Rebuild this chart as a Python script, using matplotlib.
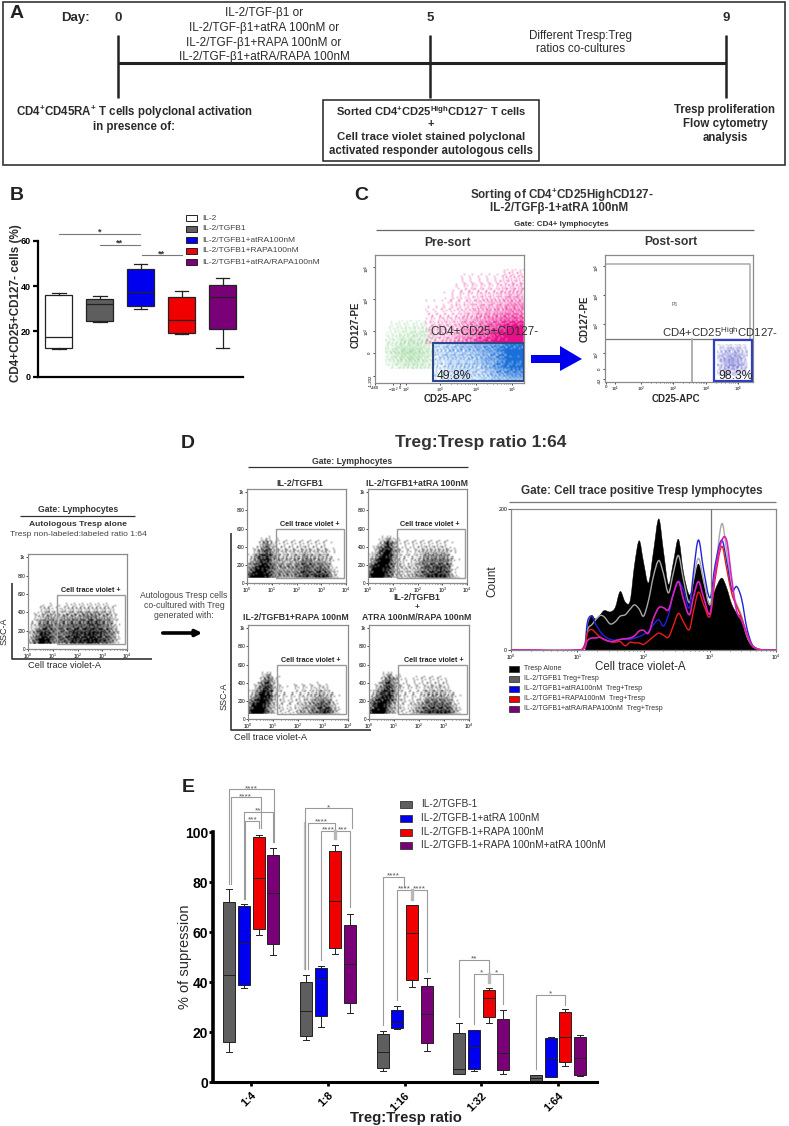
import matplotlib

matplotlib.use("Agg")
import matplotlib.pyplot as plt
import numpy as np
from matplotlib.colors import to_rgb
from matplotlib.patches import PathPatch, Polygon, Rectangle
from matplotlib.path import Path

plt.rcParams.update(
    {
        "font.family": ["Liberation Sans", "DejaVu Sans"],
        "mathtext.default": "regular",
        "axes.linewidth": 0.8,
    }
)

W, H = 789, 1126
GRAY, BLUE, RED, PURPLE = "#5e5e5e", "#0000ee", "#f00000", "#7a0078"
FRAME = "#8a8a8a"
TXT = "#2a2a2a"

# panel B, % of CD4+CD25+CD127- cells
B_LOW = [12.0, 24.1, 30.0, 18.7, 12.5]
B_Q1 = [12.8, 24.6, 31.2, 19.4, 20.9]
B_MED = [17.4, 32.0, 37.2, 25.1, 35.4]
B_Q3 = [36.2, 34.1, 47.4, 35.4, 40.4]
B_HIGH = [36.8, 35.6, 49.7, 37.8, 43.7]
B_COLORS = ["white", GRAY, BLUE, RED, PURPLE]
B_NAMES = [
    "IL-2",
    "IL-2/TGFB1",
    "IL-2/TGFB1+atRA100nM",
    "IL-2/TGFB1+RAPA100nM",
    "IL-2/TGFB1+atRA/RAPA100nM",
]
# (left box, right box, height, stars)
B_SIGNIF = [(1, 2.98, 63.2, "*"), (2, 2.98, 58.4, "**"), (3.03, 4, 53.8, "**")]

# panel E, one row per ratio, one column per condition
E_RATIOS = ["1:4", "1:8", "1:16", "1:32", "1:64"]
E_NAMES = [
    "IL-2/TGFB-1",
    "IL-2/TGFB-1+atRA 100nM",
    "IL-2/TGFB-1+RAPA 100nM",
    "IL-2/TGFB-1+RAPA 100nM+atRA 100nM",
]
E_COLORS = [GRAY, BLUE, RED, PURPLE]
E_OFFSETS = [-0.288, -0.096, 0.096, 0.288]
E_LOW = [
    [11.9, 37.8, 59.0, 51.0],
    [16.7, 22.2, 51.1, 27.6],
    [4.5, 21.2, 38.0, 12.4],
    [3.1, 4.4, 23.6, 3.1],
    [0.4, 1.9, 6.5, 2.5],
]
E_Q1 = [
    [16.0, 38.7, 61.3, 55.1],
    [18.4, 26.4, 53.5, 31.8],
    [5.5, 21.8, 40.7, 15.6],
    [3.3, 5.2, 26.0, 4.7],
    [0.4, 2.1, 8.0, 2.8],
]
E_MED = [
    [43.0, 55.5, 81.8, 75.8],
    [28.3, 41.1, 72.4, 47.1],
    [12.1, 23.6, 59.7, 27.4],
    [5.3, 14.2, 33.6, 11.7],
    [1.6, 9.7, 18.0, 9.7],
]
E_Q3 = [
    [72.2, 70.6, 97.9, 91.0],
    [40.2, 45.5, 92.3, 62.9],
    [19.4, 28.8, 70.8, 38.6],
    [19.5, 20.8, 36.7, 25.4],
    [2.7, 17.8, 28.0, 18.0],
]
E_HIGH = [
    [77.2, 71.3, 98.9, 93.5],
    [43.0, 46.6, 95.0, 67.3],
    [20.6, 30.6, 71.0, 41.8],
    [23.8, 21.0, 37.6, 29.0],
    [2.8, 18.0, 29.4, 19.0],
]
# (ratio, left x, right x, top, left foot, right foot, stars)
E_BRACKETS = [
    (0, -0.297, 0.30, 117.2, 79.4, 96.0, "****"),
    (0, -0.27, 0.126, 113.9, 79.4, 101.5, "****"),
    (0, -0.10, 0.28, 108.1, 73.4, 96.0, "**"),
    (0, -0.08, 0.105, 104.5, 73.4, 101.5, "***"),
    (1, -0.297, 0.31, 109.5, 45.4, 101.5, "*"),
    (1, -0.265, 0.096, 103.7, 45.4, 97.5, "****"),
    (1, -0.096, 0.096, 100.5, 48.7, 97.5, "****"),
    (1, 0.096, 0.288, 100.5, 97.5, 70.0, "***"),
    (2, -0.288, -0.008, 82.1, 22.7, 78.0, "****"),
    (2, -0.096, 0.09, 77.0, 32.7, 73.4, "****"),
    (2, 0.10, 0.295, 77.0, 73.4, 44.0, "****"),
    (3, -0.288, 0.096, 49.0, 26.0, 40.0, "**"),
    (3, -0.096, 0.096, 43.4, 23.4, 40.0, "*"),
    (3, 0.10, 0.288, 43.4, 40.0, 31.4, "*"),
    (4, -0.288, 0.096, 35.0, 5.3, 30.7, "*"),
]

# histogram of panel D: cell trace (decades) and counts per condition
H_X = [
    0.0, 1.045, 1.12, 1.146, 1.171, 1.221, 1.271, 1.347, 1.407, 1.497, 1.573,
    1.648, 1.724, 1.799, 1.864, 1.935, 2.0, 2.075, 2.151, 2.231, 2.302, 2.377,
    2.452, 2.528, 2.603, 2.693, 2.754, 2.829, 2.905, 3.005, 3.08, 3.181, 3.256,
    3.332, 3.407, 3.482, 3.558, 3.633, 3.709, 3.809, 4.0,
]
H_ALONE = [
    0, 0, 0, 25, 40, 49, 44, 50, 56, 54, 60, 83, 68, 70, 120, 155, 125, 95, 140,
    186, 140, 93, 125, 157, 110, 78, 95, 122, 95, 64, 85, 102, 88, 65, 52, 45,
    20, 6, 1, 0, 0,
]
H_TGFB = [
    0, 0, 6, 25, 32, 36, 42, 49, 47, 37, 40, 48, 50, 58, 64, 58, 48, 70, 105,
    127, 108, 81, 110, 134, 100, 67, 100, 130, 100, 64, 110, 179, 140, 85, 65,
    48, 20, 7, 2, 0, 0,
]
H_ATRA = [
    0, 0, 10, 35, 45, 48, 38, 26, 20, 15, 14, 15, 15, 15, 17, 19, 22, 26, 36,
    43, 34, 50, 80, 97, 85, 60, 110, 156, 115, 74, 120, 156, 125, 85, 90, 72,
    32, 9, 2, 0, 0,
]
H_RAPA = [
    0, 0, 8, 22, 27, 29, 25, 18, 15, 12, 11, 12, 6, 11, 10, 10, 8, 13, 19, 24,
    21, 18, 35, 52, 40, 29, 55, 82, 65, 48, 100, 147, 115, 80, 62, 45, 24, 7, 2,
    0, 0,
]
H_BOTH = [
    0, 0, 4, 12, 15, 17, 17, 18, 15, 12, 13, 15, 16, 17, 20, 27, 28, 24, 45, 60,
    60, 57, 80, 97, 72, 50, 75, 97, 75, 52, 110, 155, 155, 100, 55, 42, 22, 7,
    2, 0, 0,
]
H_NAMES = [
    "Tresp Alone",
    "IL-2/TGFB1 Treg+Tresp",
    "IL-2/TGFB1+atRA100nM  Treg+Tresp",
    "IL-2/TGFB1+RAPA100nM  Treg+Tresp",
    "IL-2/TGFB1+atRA/RAPA100nM  Treg+Tresp",
]

# dot clouds read as coarse darkness grids (0-9), top row first, x in quarter decades
D_ALONE = [
    [0, 0, 0, 0, 0, 0, 0, 0, 0, 0, 0, 0, 0, 0, 0, 0],
    [0, 0, 1, 2, 1, 1, 2, 2, 2, 2, 2, 2, 2, 1, 0, 0],
    [0, 1, 3, 4, 3, 3, 4, 4, 4, 5, 5, 4, 4, 2, 0, 0],
    [0, 2, 5, 6, 4, 5, 5, 6, 6, 6, 7, 6, 5, 3, 0, 0],
    [1, 4, 8, 7, 5, 5, 6, 8, 7, 8, 8, 7, 6, 4, 0, 0],
    [3, 6, 9, 8, 5, 5, 6, 8, 7, 8, 8, 7, 6, 4, 0, 0],
]
D_TGFB = [
    [0, 0, 0, 0, 0, 0, 0, 0, 0, 0, 0, 0, 0, 0, 0, 0],
    [0, 0, 1, 5, 2, 1, 1, 1, 1, 1, 1, 1, 1, 0, 0, 0],
    [0, 1, 4, 7, 3, 2, 2, 2, 2, 3, 2, 2, 2, 1, 0, 0],
    [1, 3, 7, 8, 4, 3, 3, 3, 4, 5, 4, 4, 3, 1, 0, 0],
    [3, 7, 9, 8, 5, 4, 4, 4, 5, 7, 5, 6, 5, 2, 0, 0],
    [6, 9, 9, 8, 5, 4, 4, 4, 6, 7, 6, 8, 8, 3, 0, 0],
]
D_ATRA = [
    [0, 0, 0, 1, 0, 0, 0, 0, 0, 0, 0, 0, 0, 0, 0, 0],
    [0, 0, 3, 8, 3, 1, 1, 1, 1, 1, 1, 1, 1, 0, 0, 0],
    [0, 2, 7, 9, 4, 1, 1, 1, 2, 3, 3, 3, 3, 1, 0, 0],
    [1, 6, 9, 9, 3, 2, 1, 2, 4, 5, 5, 5, 5, 1, 0, 0],
    [4, 9, 9, 7, 3, 2, 2, 2, 4, 6, 6, 7, 6, 1, 0, 0],
    [8, 9, 9, 6, 3, 2, 2, 3, 5, 7, 8, 8, 7, 2, 0, 0],
]
D_RAPA = [
    [0, 0, 0, 1, 0, 0, 0, 0, 0, 0, 0, 0, 0, 0, 0, 0],
    [0, 0, 2, 6, 2, 0, 0, 0, 0, 0, 0, 0, 0, 0, 0, 0],
    [0, 1, 6, 8, 2, 1, 0, 1, 1, 1, 1, 2, 1, 0, 0, 0],
    [1, 5, 9, 8, 2, 1, 1, 1, 1, 2, 3, 4, 3, 1, 0, 0],
    [4, 9, 9, 6, 2, 1, 1, 1, 2, 3, 4, 6, 6, 2, 0, 0],
    [8, 9, 9, 5, 1, 1, 1, 1, 3, 4, 5, 7, 8, 3, 0, 0],
]
D_BOTH = [
    [0, 0, 0, 1, 0, 0, 0, 0, 0, 0, 0, 0, 0, 0, 0, 0],
    [0, 0, 2, 6, 3, 1, 0, 1, 1, 1, 1, 1, 0, 0, 0, 0],
    [0, 1, 5, 8, 3, 1, 1, 1, 1, 2, 2, 2, 1, 0, 0, 0],
    [1, 5, 8, 8, 3, 1, 1, 1, 2, 4, 4, 4, 3, 1, 0, 0],
    [4, 8, 9, 6, 2, 1, 1, 2, 4, 6, 6, 6, 5, 2, 0, 0],
    [8, 9, 9, 4, 2, 1, 1, 3, 6, 7, 7, 8, 8, 3, 0, 0],
]
C_GREEN = [
    [0, 1, 1, 1, 0],
    [1, 2, 3, 3, 1],
    [2, 4, 5, 4, 2],
    [1, 2, 3, 3, 1],
]
C_PINK = [
    [0, 0, 0, 0, 0, 0, 1, 1],
    [0, 0, 0, 1, 1, 1, 2, 2],
    [0, 0, 1, 1, 2, 2, 3, 3],
    [1, 1, 1, 2, 3, 4, 5, 5],
    [1, 2, 2, 4, 5, 7, 9, 9],
    [1, 2, 3, 5, 7, 9, 9, 9],
]
C_BLUE = [
    [2, 3, 4, 5, 6, 8, 8],
    [2, 3, 3, 4, 6, 9, 9],
    [1, 2, 3, 3, 5, 8, 8],
    [1, 1, 2, 2, 3, 4, 4],
]
C_SORTED = [
    [1, 2, 2, 1],
    [2, 4, 5, 2],
    [2, 5, 5, 2],
    [1, 2, 2, 1],
]

# fixed halftone tile, turns the darkness grids into a dot texture
TILE = np.array(
    [
        [37, 5, 58, 21, 44, 12, 61, 28],
        [16, 49, 30, 9, 54, 33, 2, 47],
        [62, 25, 41, 56, 18, 39, 23, 52],
        [7, 35, 13, 3, 46, 60, 10, 31],
        [50, 20, 59, 27, 34, 6, 43, 17],
        [29, 1, 38, 48, 15, 55, 24, 63],
        [42, 57, 11, 22, 4, 36, 51, 14],
        [19, 32, 45, 0, 53, 26, 40, 8],
    ]
)
# row shifts of the tile, so that the pattern does not repeat visibly
TILE_SHIFT = [0, 3, 6, 1, 7, 2, 5, 4, 1, 6, 3, 0, 5]


def box(x0, y0, x1, y1):
    return [x0 / W, 1 - y1 / H, (x1 - x0) / W, (y1 - y0) / H]


def cloud(ax, grid, extent, color, top=1.0):
    # limits must be set before the call, the image is made at pixel size
    xl, yl = ax.get_xlim(), ax.get_ylim()
    nx = max(2, int(ax.bbox.width * (extent[1] - extent[0]) / abs(xl[1] - xl[0])))
    ny = max(2, int(ax.bbox.height * (extent[3] - extent[2]) / abs(yl[1] - yl[0])))
    g = np.array(grid, dtype=float) / 9
    rows = np.linspace(0, g.shape[0] - 1, ny)
    cols = np.linspace(0, g.shape[1] - 1, nx)
    by_col = np.array([np.interp(rows, np.arange(g.shape[0]), g[:, j]) for j in range(g.shape[1])]).T
    dens = np.array([np.interp(cols, np.arange(g.shape[1]), r) for r in by_col])
    tile = np.zeros((ny, nx))
    for i in range(ny):
        row = np.roll(TILE[i % 8], TILE_SHIFT[(i // 2) % len(TILE_SHIFT)])
        tile[i] = np.tile(row, nx // 8 + 1)[:nx]
    dots = (dens > (tile + 0.5) / 64).astype(float)
    kern = np.array([1, 2, 1]) / 4
    dots = np.apply_along_axis(lambda v: np.convolve(v, kern, "same"), 0, dots)
    dots = np.apply_along_axis(lambda v: np.convolve(v, kern, "same"), 1, dots)
    rgba = np.zeros((ny, nx, 4))
    rgba[..., :3] = to_rgb(color)
    rgba[..., 3] = dots * top
    ax.imshow(rgba, extent=extent, aspect="auto", interpolation="nearest", zorder=1)
    ax.set_xlim(xl)
    ax.set_ylim(yl)


def frame(ax):
    for s in ax.spines.values():
        s.set_color(FRAME)
        s.set_linewidth(0.9)


def log_ticks(ax, lo, hi, extra=(), size=3.6):
    minor = [d + np.log10(k) for d in range(lo, hi) for k in range(2, 10)]
    ax.set_xticks(minor, minor=True)
    major = list(range(lo, hi + 1))
    labels = [f"$10^{d}$" for d in major]
    for pos, lab in extra:
        major.append(pos)
        labels.append(lab)
    ax.set_xticks(major, labels)
    ax.tick_params(axis="x", which="major", length=1.5, width=0.5, labelsize=size, pad=0.4)
    ax.tick_params(axis="x", which="minor", length=1, width=0.4)


def stat_rows(low, q1, med, q3, high):
    return [
        {"whislo": a, "q1": b, "med": c, "q3": d, "whishi": e, "fliers": []}
        for a, b, c, d, e in zip(low, q1, med, q3, high)
    ]


def draw_boxes(ax, rows, positions, colors, width, lw):
    parts = ax.bxp(
        rows,
        positions=positions,
        widths=width,
        capwidths=width * 0.5,
        patch_artist=True,
        showfliers=False,
        manage_ticks=False,
        boxprops={"linewidth": lw, "edgecolor": "#222222"},
        medianprops={"linewidth": lw, "color": "#222222"},
        whiskerprops={"linewidth": lw, "color": "#222222"},
        capprops={"linewidth": lw, "color": "#222222"},
    )
    for patch, c in zip(parts["boxes"], colors):
        patch.set_facecolor(c)


def smooth(xs, ys):
    # Bezier through the read points, the path stays on every one of them
    pts = np.column_stack([xs, ys])
    verts, codes = [pts[0]], [Path.MOVETO]
    for i in range(len(pts) - 1):
        a = pts[max(i - 1, 0)]
        b, c = pts[i], pts[i + 1]
        d = pts[min(i + 2, len(pts) - 1)]
        h = c[0] - b[0]
        s0 = (c[1] - a[1]) / max(c[0] - a[0], 1e-6)
        s1 = (d[1] - b[1]) / max(d[0] - b[0], 1e-6)
        verts += [(b[0] + h / 3, b[1] + s0 * h / 3), (c[0] - h / 3, c[1] - s1 * h / 3), c]
        codes += [Path.CURVE4] * 3
    return verts, codes


def panel_b(fig):
    ax = fig.add_axes(box(38, 241, 243, 376.5))
    draw_boxes(
        ax,
        stat_rows(B_LOW, B_Q1, B_MED, B_Q3, B_HIGH),
        range(1, 6),
        B_COLORS,
        0.66,
        0.9,
    )
    ax.set_xlim(0.49, 5.5)
    ax.set_ylim(0, 60)
    ax.set_xticks([])
    ax.set_yticks([0, 20, 40, 60], ["0", "20", "40", "60"], fontsize=6.5, fontweight="bold")
    ax.tick_params(axis="y", length=3.5, width=1.6, pad=1.5)
    for s in ("top", "right"):
        ax.spines[s].set_visible(False)
    for s in ("left", "bottom"):
        ax.spines[s].set_linewidth(1.6)
    for x0, x1, y, stars in B_SIGNIF:
        ax.plot([x0, x1], [y, y], color="#777777", lw=0.8, clip_on=False)
        ax.text((x0 + x1) / 2, y + 0.6, stars, ha="center", va="center", fontsize=6.5,
                fontweight="bold", color="#333333", clip_on=False)


def panel_e(fig):
    ax = fig.add_axes(box(213, 832, 597, 1082))
    for i in range(len(E_RATIOS)):
        draw_boxes(
            ax,
            stat_rows(E_LOW[i], E_Q1[i], E_MED[i], E_Q3[i], E_HIGH[i]),
            [i + o for o in E_OFFSETS],
            E_COLORS,
            0.157,
            0.7,
        )
    for i, x0, x1, top, foot0, foot1, stars in E_BRACKETS:
        ax.plot(
            [i + x0, i + x0, i + x1, i + x1],
            [foot0, top, top, foot1],
            color="#9a9a9a",
            lw=0.8,
            clip_on=False,
        )
        ax.text(i + (x0 + x1) / 2, top + 0.2, stars, ha="center", va="center",
                fontsize=6, color="#555555", clip_on=False)
    # thick gate stubs where several brackets land on the same box
    ax.plot([0.704, 0.704], [45.4, 103.7], color="#c4c4c4", lw=1.6, clip_on=False, zorder=1)
    for i, y0, y1 in [(1, 97.5, 100.5), (2, 73.4, 77.0), (3, 40.0, 43.4)]:
        ax.plot([i + 0.096, i + 0.096], [y0, y1], color="#b8b8b8", lw=2.4, clip_on=False)
    ax.set_xlim(-0.5, 4.51)
    ax.set_ylim(0, 100)
    ax.set_xticks(range(5))
    ax.set_xticklabels(E_RATIOS, rotation=45, ha="right", rotation_mode="anchor",
                       fontsize=8, fontweight="bold")
    ax.set_yticks(range(0, 101, 20))
    ax.set_yticklabels(range(0, 101, 20), fontsize=10, fontweight="bold")
    ax.tick_params(axis="y", length=3, width=2, pad=0.5)
    ax.tick_params(axis="x", length=3, width=2, pad=3)
    for s in ("top", "right"):
        ax.spines[s].set_visible(False)
    ax.spines["left"].set_linewidth(2.6)
    ax.spines["bottom"].set_linewidth(2.2)


def panel_c(fig):
    pre = fig.add_axes(box(375, 255, 524, 383))
    pre.set_xlim(1.2, 5.34)
    pre.set_ylim(1.37, 5.39)
    cloud(pre, C_GREEN, (1.47, 2.86, 1.82, 3.35), "#6fc46f", 0.8)
    cloud(pre, C_PINK, (2.6, 5.34, 2.6, 4.93), "#e8108a")
    cloud(pre, C_BLUE, (2.81, 5.33, 1.43, 2.62), "#1a6fd8")
    pre.add_patch(Rectangle((2.81, 1.43), 2.52, 1.19, fill=False, ec="#2f4a8a", lw=1.5, zorder=3))
    log_ticks(pre, 3, 5, [(1.2, "-460"), (1.7, "$-10^2$"), (1.89, "0"), (2.07, "$10^2$")], 3.0)
    pre.set_yticks([1.6, 2.3, 3, 4, 5], ["-1,202", "0", "$10^3$", "$10^4$", "$10^5$"])
    pre.tick_params(axis="y", length=1.5, width=0.5, labelsize=3.2, pad=0.5, labelrotation=90)
    frame(pre)

    post = fig.add_axes(box(605, 255, 753, 382))
    post.set_xlim(0.9, 5.45)
    post.set_ylim(1.01, 5.39)
    cloud(post, C_SORTED, (4.35, 5.3, 1.2, 2.3), "#5555c8", 0.9)
    post.add_patch(Rectangle((4.24, 1.03), 1.18, 1.42, fill=False, ec="#2f3fc0", lw=1.6, zorder=3))
    post.plot([0.9, 5.35, 5.35], [5.07, 5.07, 2.49], color="#aaaaaa", lw=1.1)
    post.plot([0.9, 5.45], [2.49, 2.49], color="#777777", lw=0.9)
    post.plot([3.59, 3.59], [1.01, 2.49], color="#aaaaaa", lw=1.3)
    log_ticks(post, 2, 5, [(0.92, "0"), (1.2, "$10^1$")], 3.2)
    post.set_yticks([1.1, 1.45, 2, 3, 4, 5], ["-42", "0", "$10^2$", "$10^3$", "$10^4$", "$10^5$"])
    post.tick_params(axis="y", length=1.5, width=0.5, labelsize=3.2, pad=0.5, labelrotation=90)
    frame(post)


def flow_plot(fig, rect, grid, gate_x):
    ax = fig.add_axes(box(*rect))
    ax.set_xlim(0, 4)
    ax.set_ylim(0, 1035)
    cloud(ax, grid, (0, 4, 50, 520), "#000000")
    ax.add_patch(
        Rectangle((gate_x, 51), 3.93 - gate_x, 542, fill=False, ec="#9a9a9a", lw=1.0, zorder=3)
    )
    log_ticks(ax, 0, 4)
    ax.set_yticks([0, 200, 400, 600, 800, 1000], ["0", "200", "400", "600", "800", "1k"])
    ax.tick_params(axis="y", length=1.5, width=0.5, labelsize=3.4, pad=0.5)
    frame(ax)


def histogram(fig):
    ax = fig.add_axes(box(511, 509, 776, 650))
    verts, codes = smooth(H_X, H_ALONE)
    ax.add_patch(PathPatch(Path(verts, codes), fc="black", ec="black", lw=0.3, zorder=1))
    series = [(H_TGFB, "#a8a8a8", 1.0), (H_ATRA, "#2222dd", 1.0), (H_RAPA, "#ee1c1c", 1.0),
              (H_BOTH, "#d822c0", 1.2)]
    for z, (vals, color, lw) in enumerate(series):
        verts, codes = smooth(H_X, vals)
        ax.add_patch(PathPatch(Path(verts, codes), fc="none", ec=color, lw=lw, zorder=2 + z))
    ax.plot([3.02, 3.02], [67, 200], color="#777777", lw=0.9, zorder=6)
    ax.set_xlim(0, 4)
    ax.set_ylim(0, 200)
    log_ticks(ax, 0, 4)
    ax.set_yticks([0, 200], ["0", "200"])
    ax.tick_params(axis="y", length=2, width=0.5, labelsize=3.8, pad=0.8)
    frame(ax)


def overlay(fig):
    ax = fig.add_axes([0, 0, 1, 1], zorder=10)
    ax.set_xlim(0, W)
    ax.set_ylim(H, 0)
    ax.axis("off")

    def t(x, y, s, size=7.5, weight="normal", ha="center", color=TXT, rot=0):
        ax.text(x, y, s, fontsize=size, fontweight=weight, ha=ha, va="center",
                color=color, rotation=rot)

    def line(xs, ys, lw=1.0, color="#333333"):
        ax.plot(xs, ys, color=color, lw=lw, solid_capstyle="butt")

    # A
    ax.add_patch(Rectangle((3, 2), 782, 163, fill=False, ec="#333333", lw=1.2))
    t(17, 13, "A", 14, "bold", color="#222222")
    t(75, 18, "Day:", 9.5, "bold")
    for x, d in [(118, "0"), (430, "5"), (726, "9")]:
        t(x, 18, d, 9.5, "bold")
        line([x, x], [35, 98], 1.8, "#222222")
    line([118, 726], [63, 63], 2.2, "#222222")
    for y, s in [
        (13, "IL-2/TGF-β1 or"),
        (28, "IL-2/TGF-β1+atRA 100nM or"),
        (43, "IL-2/TGF-β1+RAPA 100nM or"),
        (57, "IL-2/TGF-β1+atRA/RAPA 100nM"),
    ]:
        t(264, y, s, 8.45)
    t(581, 36, "Different Tresp:Treg", 8.4)
    t(581, 49, "ratios co-cultures", 8.4)
    t(134, 112, "CD4$^{+}$CD45RA$^{+}$ T cells polyclonal activation", 8.3, "bold")
    t(134, 127, "in presence of:", 8.3, "bold")
    ax.add_patch(Rectangle((323, 100), 216, 61, fill=False, ec="#222222", lw=1.1))
    t(431, 111, "Sorted CD4$^{+}$CD25$^{High}$CD127$^{-}$ T cells", 8, "bold")
    t(431, 124, "+", 8, "bold")
    t(431, 137, "Cell trace violet stained polyclonal", 8.2, "bold")
    t(431, 151, "activated responder autologous cells", 8.3, "bold")
    for y, s in [(110, "Tresp proliferation"), (124, "Flow cytometry"), (138, "analysis")]:
        t(725, y, s, 8.3, "bold")

    # B
    t(17, 196, "B", 14, "bold", color="#222222")
    t(16, 303, "CD4+CD25+CD127- cells (%)", 8.4, "bold", rot=90)
    for y, c, s in zip([218, 229, 240, 251, 262], B_COLORS, B_NAMES):
        ax.add_patch(Rectangle((186, y - 3), 11, 6, fc=c, ec="#222222", lw=0.7))
        t(202, y, s, 6, ha="left", color="#444444")

    # C
    t(361, 196, "C", 14, "bold", color="#222222")
    t(562, 195, "Sorting of CD4$^{+}$CD25HighCD127-", 8.4, "bold", color="#333333")
    t(559, 208.5, "IL-2/TGFβ-1+atRA 100nM", 8.4, "bold", color="#333333")
    t(561, 224, "Gate: CD4+ lymphocytes", 5.8, "bold", color="#333333")
    line([376, 754], [230, 230], 0.9, "#666666")
    t(448, 243, "Pre-sort", 8.7, "bold", color="#333333")
    t(671, 242, "Post-sort", 8.7, "bold", color="#333333")
    t(356, 325, "CD127-PE", 7, "bold", rot=90)
    t(448, 399, "CD25-APC", 7, "bold")
    t(585, 319, "CD127-PE", 7, "bold", rot=90)
    t(676, 399, "CD25-APC", 7, "bold")
    t(484, 332, "CD4+CD25+CD127-", 8.5, color="#333333")
    t(437, 376, "49.8%", 8.7, ha="left", color="#222222")
    t(720, 332, "CD4+CD25$^{High}$CD127-", 8.2, color="#333333")
    t(718, 376, "98.3%", 8.7, ha="left", color="#222222")
    t(675, 304, "P6", 3.5, color="#555555")
    ax.add_patch(
        Polygon(
            [(531, 355), (560, 355), (560, 346), (582, 359), (560, 371), (560, 363), (531, 363)],
            fc="#0000ee",
            ec="none",
        )
    )

    # D
    t(188, 443, "D", 14, "bold", color="#222222")
    t(481, 442, "Treg:Tresp ratio 1:64", 12.5, "bold", color="#333333")
    t(352, 462, "Gate: Lymphocytes", 6.2, "bold", color="#333333")
    line([248, 468], [467, 467], 0.9)
    t(78, 509, "Gate: Lymphocytes", 6.2, "bold", color="#333333")
    line([20, 135], [516, 516], 0.9)
    t(78, 524, "Autologous Tresp alone", 6.1, "bold", color="#333333")
    t(78, 535, "Tresp non-labeled:labeled ratio 1:64", 6.1, color="#444444")
    line([12, 12, 152], [583, 659, 659], 1.2)
    t(4, 631, "SSC-A", 6.5, rot=90)
    t(65, 665, "Cell trace violet-A", 6.7)
    for y, s in [(595, "Autologous Tresp cells"), (606, "co-cultured with Treg"), (616, "generated with:")]:
        t(184, y, s, 6.2, color="#444444")
    ax.annotate("", xy=(205, 633), xytext=(160, 633),
                arrowprops={"arrowstyle": "-|>", "color": "black", "lw": 2.6, "mutation_scale": 9})
    line([231, 231, 371], [533, 730, 730], 1.2)
    t(224, 696, "SSC-A", 6.5, rot=90)
    t(271, 737, "Cell trace violet-A", 6.7)
    t(300, 483, "IL-2/TGFB1", 6.3, "bold", color="#333333")
    t(417, 483, "IL-2/TGFB1+atRA 100nM", 6.3, "bold", color="#333333")
    t(296, 618, "IL-2/TGFB1+RAPA 100nM", 6.3, "bold", color="#333333")
    t(417, 597, "IL-2/TGFB1", 6.3, "bold", color="#333333")
    t(417, 607.5, "+", 6, "bold", color="#333333")
    t(417, 618, "ATRA 100nM/RAPA 100nM", 6.3, "bold", color="#333333")
    for x, y in [(91, 590), (310, 524), (430, 524), (311, 660), (434, 660)]:
        t(x, y, "Cell trace violet +", 5.2, "bold", color="#222222")

    t(642, 491, "Gate: Cell trace positive Tresp lymphocytes", 8.4, "bold", color="#333333")
    line([509, 776], [502, 502], 0.9, "#777777")
    t(492, 581, "Count", 8.5, rot=90)
    t(640, 667, "Cell trace violet-A", 8.3)
    h_colors = ["black", GRAY, BLUE, RED, PURPLE]
    for y, c, s in zip([669, 679, 689, 699, 709], h_colors, H_NAMES):
        ax.add_patch(Rectangle((509, y - 3), 10, 6, fc=c, ec="#222222", lw=0.5))
        t(524, y, s, 5, ha="left", color="#333333")

    # E
    t(188, 787, "E", 14, "bold", color="#222222")
    t(185, 957, "% of supression", 10.5, rot=90)
    t(406, 1118, "Treg:Tresp ratio", 10.7, "bold", color="#222222")
    for y, c, s in zip([804, 818, 832, 845], E_COLORS, E_NAMES):
        ax.add_patch(Rectangle((400, y - 3.5), 12, 7, fc=c, ec="#333333", lw=0.6))
        t(421, y, s, 7.3, ha="left", color="#333333")


def main():
    fig = plt.figure(figsize=(W / 100, H / 100), dpi=100)
    panel_b(fig)
    panel_c(fig)
    flow_plot(fig, (28, 554, 127, 649), D_ALONE, 1.17)
    flow_plot(fig, (247, 489, 346, 583), D_TGFB, 1.17)
    flow_plot(fig, (368, 489, 467, 583), D_ATRA, 1.17)
    flow_plot(fig, (248, 625, 348, 719), D_RAPA, 1.17)
    flow_plot(fig, (369, 625, 469, 719), D_BOTH, 1.17)
    histogram(fig)
    panel_e(fig)
    overlay(fig)
    fig.savefig("out.png", dpi=100)
    plt.close(fig)


if __name__ == "__main__":
    main()
